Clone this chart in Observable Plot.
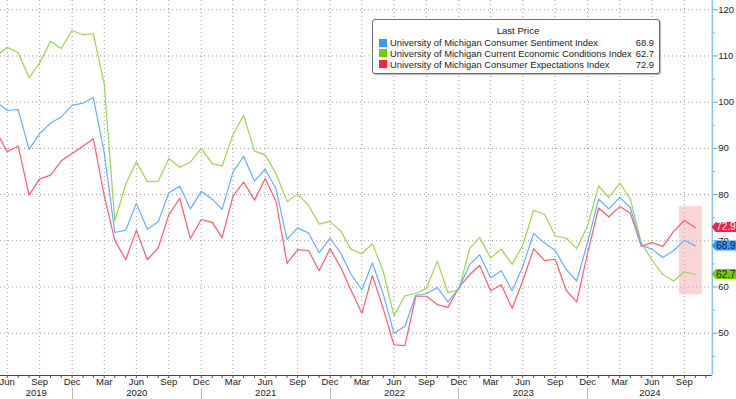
<!DOCTYPE html>
<html><head><meta charset="utf-8">
<script src="https://cdn.jsdelivr.net/npm/d3@7"></script>
<script src="https://cdn.jsdelivr.net/npm/@observablehq/plot@0.6"></script>
<style>
body{margin:0;background:#fff;font-family:"Liberation Sans",Arial,sans-serif;}
#wrap{position:relative;width:736px;height:399px;overflow:hidden;background:#fff;}
#legend{position:absolute;left:372px;top:19px;width:288px;height:55px;box-sizing:border-box;border:1px solid #6a6a6a;border-radius:3px;background:#fff;box-shadow:1px 1px 1px rgba(0,0,0,0.3);font-size:9.4px;color:#1a1a1a;}
#legend .hdr{position:absolute;left:0;width:100%;text-align:center;top:5px;padding-left:2px;font-size:9.6px;}
#legend .row{position:absolute;left:6px;right:5px;height:11px;line-height:11px;}
#legend .sw{position:absolute;left:0;top:1.5px;width:8px;height:8px;}
#legend .lbl{position:absolute;left:11px;}
#legend .val{position:absolute;right:0;}
</style></head>
<body><div id="wrap"></div>
<script>
// ---- data (monthly, May 2019 .. Oct 2024) ----
const startYear = 2019, startMonthIndex = 4; // May 2019
const sentiment = [100.0, 98.2, 98.4, 89.8, 93.2, 95.5, 96.8, 99.3,
  99.8, 101.0, 89.1, 71.8, 72.3, 78.1, 72.5, 74.1, 80.4, 81.8, 76.9, 80.7,
  79.0, 76.8, 84.9, 88.3, 82.9, 85.5, 81.2, 70.3, 72.8, 71.7, 67.4, 70.6,
  67.2, 62.8, 59.4, 65.2, 58.4, 50.0, 51.5, 58.2, 58.6, 59.9, 56.8, 59.7,
  64.9, 67.0, 62.0, 63.5, 59.2, 64.4, 71.6, 69.5, 67.9, 63.8, 61.3, 69.7,
  79.0, 76.9, 79.4, 77.2, 69.1, 68.2, 66.4, 67.9, 70.1, 68.9];
const currentConditions = [110.0, 111.9, 110.7, 105.3, 108.5, 113.2, 111.6, 115.5,
  114.6, 114.8, 103.9, 74.3, 82.3, 87.1, 82.8, 82.9, 87.8, 85.9, 87.0, 90.0,
  86.7, 86.2, 93.0, 97.2, 89.4, 88.6, 84.5, 78.5, 80.1, 77.7, 73.6, 74.2,
  72.0, 68.2, 67.2, 69.4, 63.3, 53.8, 58.1, 58.6, 59.7, 65.6, 58.8, 59.4,
  68.4, 70.7, 66.3, 68.2, 64.9, 69.0, 76.6, 75.7, 71.1, 70.6, 68.3, 73.3,
  81.9, 79.4, 82.5, 79.0, 69.6, 65.9, 62.7, 61.3, 63.3, 62.7];
const expectations = [93.5, 89.3, 90.5, 79.9, 83.4, 84.2, 87.3, 88.9,
  90.5, 92.1, 79.7, 70.1, 65.9, 72.3, 65.9, 68.5, 75.6, 79.2, 70.5, 74.6,
  74.0, 70.7, 79.7, 82.7, 78.8, 83.5, 78.5, 65.1, 68.1, 67.9, 63.5, 68.3,
  64.1, 59.4, 54.3, 62.5, 55.2, 47.5, 47.3, 58.0, 58.0, 56.2, 55.6, 59.9,
  62.7, 64.7, 59.2, 60.5, 55.4, 61.3, 68.3, 65.7, 66.0, 59.3, 56.8, 67.4,
  77.1, 75.2, 77.4, 76.0, 68.8, 69.6, 68.8, 72.1, 74.4, 72.9];
const seriesNames = [
  "University of Michigan Consumer Sentiment Index",
  "University of Michigan Current Economic Conditions Index",
  "University of Michigan Consumer Expectations Index"];
const lastPrices = ["68.9", "62.7", "72.9"];
const legendTitle = "Last Price";
const yTicks = [50, 60, 70, 80, 90, 100, 110, 120];
const yMinorTicks = [45, 55, 65, 75, 85, 95, 105, 115];
const xDomain = [new Date("2019-06-11"), new Date("2024-12-18")];
const yDomain = [40.85, 122.0];
const highlight = [{x1: new Date("2024-09-16"), x2: new Date("2024-11-20"), y1: 58.3, y2: 77.4}];

// ---- styles ----
const lineColors = ["#62b0fa", "#9cd64c", "#ff5c70"];
const swatchColors = ["#3399ff", "#77cc00", "#ff1f44"];
const tagText = ["#0a1f3a", "#14260a", "#ffffff"];
const axisBlue = "#5aa8f0";

const monthEnd = i => new Date(Date.UTC(startYear, startMonthIndex + i + 1, 0));
const seriesList = [sentiment, currentConditions, expectations];
const rows = [];
seriesList.forEach((arr, s) => arr.forEach((v, i) => rows.push({date: monthEnd(i), value: v, series: seriesNames[s]})));

const allMonthEnds = d3.range(0, 80).map(monthEnd).filter(d => d >= xDomain[0] && d <= xDomain[1]);
const quarterEnds = allMonthEnds.filter(d => [2, 5, 8, 11].includes(d.getUTCMonth()));
const decEnds = allMonthEnds.filter(d => d.getUTCMonth() === 11);
const bounds = [xDomain[0], ...decEnds, xDomain[1]];
const yearMids = bounds.slice(0, -1).map((b, i) => new Date((+b + +bounds[i + 1]) / 2));

const fontSize = 9.5;

const tagsMark = (index, scales, values, dim) => {
  const g = d3.create("svg:g");
  const tip = dim.width - dim.marginRight;
  [0, 1, 2].forEach(s => {
    const v = seriesList[s][seriesList[s].length - 1];
    const y = scales.y(v);
    g.append("path")
      .attr("d", `M${tip},${y} L${tip + 4},${y - 5} L${dim.width + 1},${y - 5} L${dim.width + 1},${y + 5} L${tip + 4},${y + 5} Z`)
      .attr("fill", swatchColors[s]);
    g.append("text").attr("x", tip + 4.5).attr("y", y).attr("dy", "0.36em")
      .attr("text-anchor", "start")
      .attr("font-size", 10).attr("fill", tagText[s]).text(lastPrices[s]);
  });
  return g.node();
};
const separatorsMark = (index, scales, values, dim) => {
  const g = d3.create("svg:g");
  decEnds.forEach(d => {
    const x = Math.round(scales.x(d)) + 0.5;
    g.append("line").attr("x1", x).attr("x2", x).attr("y1", dim.height - 11).attr("y2", dim.height)
      .attr("stroke", "#b8b8b8").attr("stroke-width", 1);
  });
  return g.node();
};

const chart = Plot.plot({
  width: 736, height: 399,
  marginLeft: 0, marginRight: 24.3, marginTop: 0, marginBottom: 24,
  style: {fontFamily: "'Liberation Sans', Arial, sans-serif", background: "#fff", overflow: "hidden"},
  x: {type: "utc", domain: xDomain},
  y: {domain: yDomain},
  marks: [
    Plot.gridY({ticks: yTicks, stroke: "#9a9a9a", strokeOpacity: 1, strokeDasharray: "1,3"}),
    Plot.gridX({ticks: quarterEnds, stroke: "#9a9a9a", strokeOpacity: 1, strokeDasharray: "1,3"}),
    Plot.rect(highlight, {x1: "x1", x2: "x2", y1: "y1", y2: "y2", fill: "#f6b3b8", fillOpacity: 0.55}),
    Plot.line(rows.filter(r => r.series === seriesNames[1]), {x: "date", y: "value", stroke: lineColors[1], strokeWidth: 1.2, clip: true}),
    Plot.line(rows.filter(r => r.series === seriesNames[2]), {x: "date", y: "value", stroke: lineColors[2], strokeWidth: 1.2, clip: true}),
    Plot.line(rows.filter(r => r.series === seriesNames[0]), {x: "date", y: "value", stroke: lineColors[0], strokeWidth: 1.2, clip: true}),
    Plot.ruleY([yDomain[0]], {stroke: "#4a4a4a", strokeWidth: 1}),
    Plot.ruleX([xDomain[1]], {stroke: axisBlue, strokeWidth: 1}),
    Plot.axisX({ticks: allMonthEnds, tickSize: 3, text: null, stroke: "#4a4a4a"}),
    Plot.axisX({ticks: quarterEnds, tickSize: 0, tickPadding: 3, tickFormat: d3.utcFormat("%b"), fontSize, fill: "#222"}),
    Plot.axisX({ticks: yearMids, tickSize: 0, tickPadding: 13.5, tickFormat: d3.utcFormat("%Y"), fontSize, fill: "#222"}),
    Plot.axisY({anchor: "right", ticks: yMinorTicks, tickSize: 2, text: null, stroke: axisBlue}),
    Plot.axisY({anchor: "right", ticks: yTicks, tickSize: 5, tickPadding: 1, tickFormat: d => String(d), fontSize, stroke: axisBlue, fill: "#222"}),
    separatorsMark,
    tagsMark
  ]
});
const wrap = document.getElementById("wrap");
wrap.appendChild(chart);

// legend
const legend = document.createElement("div");
legend.id = "legend";
const hdr = document.createElement("div");
hdr.className = "hdr"; hdr.textContent = legendTitle;
legend.appendChild(hdr);
seriesNames.forEach((name, i) => {
  const row = document.createElement("div");
  row.className = "row";
  row.style.top = (17 + i * 10.8) + "px";
  row.innerHTML = `<span class="sw" style="background:${swatchColors[i]}"></span><span class="lbl"></span><span class="val"></span>`;
  row.querySelector(".lbl").textContent = name;
  row.querySelector(".val").textContent = lastPrices[i];
  legend.appendChild(row);
});
wrap.appendChild(legend);
</script>
</body></html>
